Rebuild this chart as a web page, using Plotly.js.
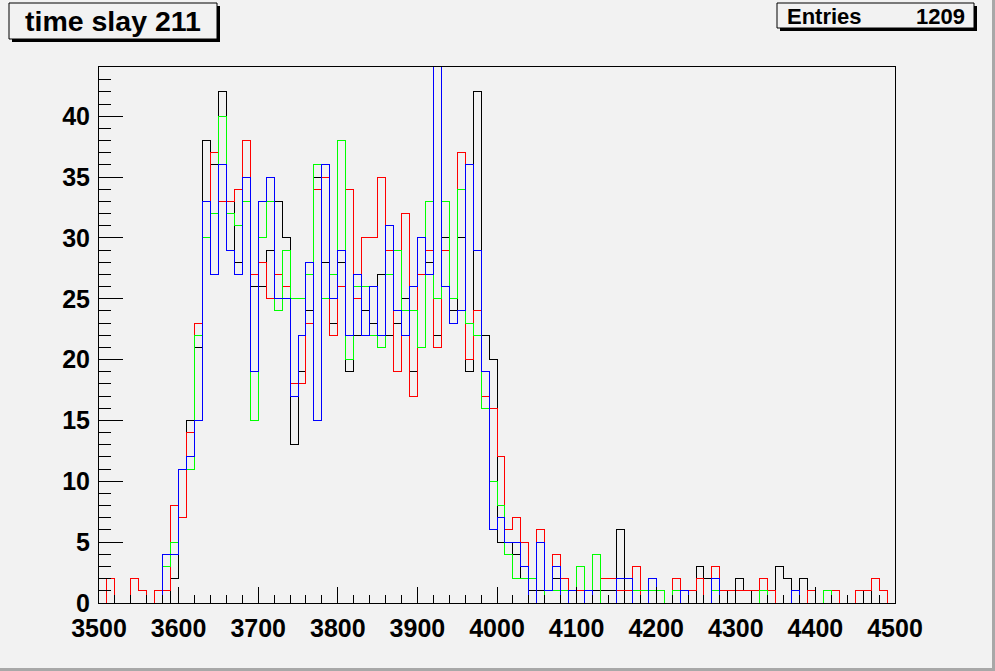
<!DOCTYPE html>
<html>
<head>
<meta charset="utf-8">
<script src="https://cdn.plot.ly/plotly-3.0.1.min.js"></script>
<style>
html,body{margin:0;padding:0;background:#f2f2f2;}
#chart{width:995px;height:671px;}
#chart .scatterlayer path{shape-rendering:crispEdges;}
</style>
</head>
<body>
<div id="chart"></div>
<script>
// Histogram "time slay 211": 100 bins of width 10 from 3500 to 4500
const binLow = 3500;
const binWidth = 10;
const titleText = "time slay 211";
const statsLabel = "Entries";
const statsValue = "1209";
const xTickLabels = ["3500","3600","3700","3800","3900","4000","4100","4200","4300","4400","4500"];

const blackCounts = [
  0,0,0,0,0,0,0,0,0,2,
  11,15,21,38,36,42,33,28,33,26,
  26,29,33,30,13,19,24,35,28,23,
  28,19,22,24,23,27,22,23,25,19,
  27,28,22,30,24,30,19,42,22,20,
  5,5,4,2,1,1,1,2,2,1,
  1,1,1,1,1,6,0,0,0,0,
  0,0,0,0,0,3,2,0,0,1,
  2,1,0,0,0,3,2,0,2,1,
  0,0,0,0,0,0,1,0,0,0
];
const redCounts = [
  0,2,0,0,2,1,0,1,1,8,
  7,14,23,33,37,33,33,34,38,27,
  28,25,27,26,18,18,23,34,35,22,
  26,34,25,30,30,35,29,19,32,17,
  27,29,21,29,25,37,20,24,17,16,
  12,6,7,5,0,6,1,4,2,0,
  1,1,0,2,2,1,1,3,0,0,
  0,0,2,1,1,2,0,3,1,1,
  1,1,1,2,1,0,0,0,0,1,
  0,0,1,0,0,1,1,2,1,0
];
const greenCounts = [
  0,0,0,0,0,0,0,0,3,5,
  11,11,22,30,32,40,32,31,33,15,
  30,33,24,29,25,25,27,36,25,27,
  38,20,26,26,22,21,27,29,24,24,
  21,33,25,33,25,34,23,22,16,10,
  8,4,2,2,2,0,1,1,1,0,
  3,0,4,0,0,0,0,1,1,1,
  1,0,1,0,0,0,0,1,0,0,
  0,0,0,1,0,0,0,0,0,0,
  0,1,0,0,0,0,0,0,0,0
];
const blueCounts = [
  0,0,0,0,0,0,0,0,4,4,
  11,12,15,33,27,36,29,27,35,19,
  33,35,25,25,17,22,28,15,36,25,
  29,22,27,22,26,22,31,24,22,26,
  30,27,46,26,23,24,36,29,19,6,
  7,5,5,3,0,5,1,3,0,1,
  0,1,0,0,0,2,2,0,0,2,
  0,0,0,1,0,0,0,2,0,0,
  0,0,0,0,0,0,0,1,0,0,
  0,0,0,0,0,0,0,0,0,0
];

const W = 995, H = 671, L = 99, R = 100, T = 67, B = 68;
const PW = W - L - R, PH = H - T - B;
const px = x => (x - L) / PW;
const py = y => (H - B - y) / PH;

const edges = [];
for (let i = 0; i <= blackCounts.length; i++) edges.push(binLow + i * binWidth);

function stepTrace(counts, color) {
  return {
    x: edges,
    y: counts.concat([counts[counts.length - 1]]),
    type: 'scatter',
    mode: 'lines',
    line: {shape: 'hv', color: color, width: 1},
    hoverinfo: 'skip',
    showlegend: false
  };
}

const traces = [
  stepTrace(blackCounts, '#000000'),
  stepTrace(redCounts, '#ff0000'),
  stepTrace(greenCounts, '#00ff00'),
  stepTrace(blueCounts, '#0000ff')
];

const font = {family: '"Liberation Sans", Arial, Helvetica, sans-serif', color: '#000'};

const shapes = [
  {type:'rect', xref:'paper', yref:'paper', x0:px(12), x1:px(220), y0:py(42), y1:py(6), fillcolor:'#000', line:{width:0}, layer:'above'},
  {type:'rect', xref:'paper', yref:'paper', x0:px(9), x1:px(217), y0:py(39), y1:py(3), fillcolor:'#f2f2f2', line:{width:1, color:'#000'}, layer:'above'},
  {type:'rect', xref:'paper', yref:'paper', x0:px(780), x1:px(977), y0:py(31), y1:py(6), fillcolor:'#000', line:{width:0}, layer:'above'},
  {type:'rect', xref:'paper', yref:'paper', x0:px(777), x1:px(974), y0:py(28), y1:py(3), fillcolor:'#f2f2f2', line:{width:1, color:'#000'}, layer:'above'},
  {type:'rect', xref:'paper', yref:'paper', x0:px(0), x1:px(995), y0:py(671), y1:py(668), fillcolor:'#a8a8a8', line:{width:0}, layer:'above'},
  {type:'rect', xref:'paper', yref:'paper', x0:px(992), x1:px(995), y0:py(671), y1:py(0), fillcolor:'#a8a8a8', line:{width:0}, layer:'above'}
];

const annotations = [
  {xref:'paper', yref:'paper', x:px(113), y:py(21), xanchor:'center', yanchor:'middle', showarrow:false,
   text: titleText, font: Object.assign({}, font, {size: 28.5, weight: 'bold'})},
  {xref:'paper', yref:'paper', x:px(785), y:py(16), xanchor:'left', yanchor:'middle', showarrow:false,
   text: statsLabel, font: Object.assign({}, font, {size: 22, weight: 'bold'})},
  {xref:'paper', yref:'paper', x:px(967), y:py(16), xanchor:'right', yanchor:'middle', showarrow:false,
   text: statsValue, font: Object.assign({}, font, {size: 22, weight: 'bold'})}
];

const layout = {
  width: W, height: H,
  margin: {l: L, r: R, t: T, b: B, pad: 0},
  paper_bgcolor: '#f2f2f2',
  plot_bgcolor: '#f2f2f2',
  showlegend: false,
  xaxis: {
    range: [3500, 4500],
    tickmode: 'array',
    tickvals: xTickLabels.map(Number),
    ticktext: xTickLabels,
    ticks: 'inside', ticklen: 16, tickwidth: 1, tickcolor: '#000',
    minor: {dtick: 20, tick0: 3500, ticks: 'inside', ticklen: 8, tickcolor: '#000', tickwidth: 1, showgrid: false},
    showgrid: false, zeroline: false,
    showline: true, linecolor: '#000', linewidth: 1, mirror: true,
    tickfont: Object.assign({}, font, {size: 25, weight: 'bold'}),
    ticklabelstandoff: 3
  },
  yaxis: {
    range: [0, 44.05],
    tickmode: 'linear', tick0: 0, dtick: 5,
    ticks: 'inside', ticklen: 24, tickwidth: 1, tickcolor: '#000',
    minor: {dtick: 1, tick0: 0, ticks: 'inside', ticklen: 12, tickcolor: '#000', tickwidth: 1, showgrid: false},
    showgrid: false, zeroline: false,
    showline: true, linecolor: '#000', linewidth: 1, mirror: true,
    tickfont: Object.assign({}, font, {size: 25, weight: 'bold'}),
    ticklabelstandoff: 3
  },
  shapes: shapes,
  annotations: annotations
};

Plotly.newPlot('chart', traces, layout, {displayModeBar: false, staticPlot: true});
</script>
</body>
</html>
